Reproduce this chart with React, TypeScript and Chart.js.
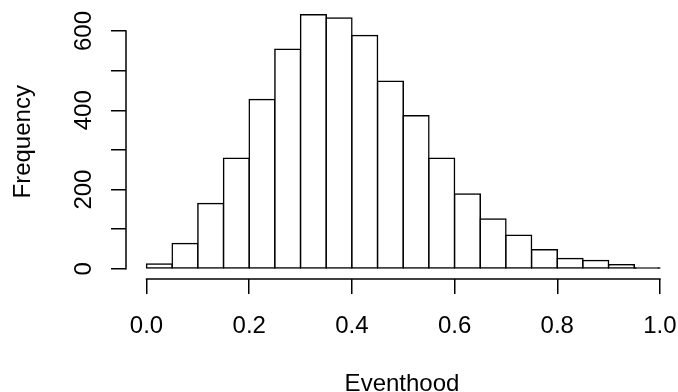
import React, { useEffect, useRef } from "react";
import { Chart, registerables } from "chart.js";

Chart.register(...registerables);

// Histogram bins (centres of 0.05-wide bins) and their counts
const binCenters = [0.025, 0.075, 0.125, 0.175, 0.225, 0.275, 0.325, 0.375, 0.425, 0.475,
  0.525, 0.575, 0.625, 0.675, 0.725, 0.775, 0.825, 0.875, 0.925, 0.975];
const counts = [12, 64, 165, 279, 427, 554, 641, 633, 589, 473,
  386, 279, 189, 126, 85, 48, 26, 21, 10, 2];

const xTicks = [0, 0.2, 0.4, 0.6, 0.8, 1.0];
const yTicks = [0, 100, 200, 300, 400, 500, 600];
const yLabels = [0, 200, 400, 600];

const xTitle = "Eventhood";
const yTitle = "Frequency";

const FONT = "'Liberation Sans', Arial, Helvetica, sans-serif";

const rAxesPlugin = {
  id: "rAxes",
  afterDraw(chart: any) {
    const { ctx, chartArea } = chart;
    const xs = chart.scales.x;
    const ys = chart.scales.y;
    ctx.save();
    ctx.strokeStyle = "#000";
    ctx.lineWidth = 1.5;
    ctx.lineCap = "butt";
    // x axis line
    const yb = chartArea.bottom;
    ctx.beginPath();
    ctx.moveTo(xs.getPixelForValue(xTicks[0]) - 0.75, yb);
    ctx.lineTo(xs.getPixelForValue(xTicks[xTicks.length - 1]) + 0.75, yb);
    ctx.stroke();
    // y axis line
    const xl = chartArea.left;
    ctx.beginPath();
    ctx.moveTo(xl, ys.getPixelForValue(yTicks[0]) + 0.75);
    ctx.lineTo(xl, ys.getPixelForValue(yTicks[yTicks.length - 1]) - 0.75);
    ctx.stroke();
    // y labels, rotated (R style)
    ctx.fillStyle = "#000";
    ctx.font = `24px ${FONT}`;
    ctx.textAlign = "center";
    ctx.textBaseline = "alphabetic";
    for (const v of yLabels) {
      const py = ys.getPixelForValue(v);
      ctx.save();
      ctx.translate(90.7, py);
      ctx.rotate(-Math.PI / 2);
      ctx.fillText(String(v), 0, 0);
      ctx.restore();
    }
    ctx.restore();
  },
};

export default function App() {
  const ref = useRef<HTMLCanvasElement | null>(null);

  useEffect(() => {
    if (!ref.current) return;
    Chart.defaults.font.family = FONT;
    Chart.defaults.font.size = 24;
    Chart.defaults.color = "#000";
    const chart = new Chart(ref.current, {
      type: "bar",
      data: {
        datasets: [
          {
            data: binCenters.map((c, i) => ({ x: c, y: counts[i] })),
            // very short bars render as a solid outline, like R's rect()
            backgroundColor: (c: any) => (counts[c.dataIndex] < 5 ? "#000" : "#fff"),
            borderColor: "#000",
            borderWidth: 1.5,
            borderSkipped: false,
            inflateAmount: 0.75,
            barPercentage: 1,
            categoryPercentage: 1,
          } as any,
        ],
      },
      options: {
        animation: false,
        responsive: false,
        devicePixelRatio: 1,
        layout: { padding: { top: 4.6, left: 0, right: 0, bottom: 0 } },
        plugins: { legend: { display: false }, tooltip: { enabled: false } },
        scales: {
          x: {
            type: "linear",
            offset: false,
            min: -0.04,
            max: 1.0352,
            afterBuildTicks: (s: any) => {
              s.ticks = xTicks.map((v) => ({ value: v }));
            },
            afterFit: (s: any) => {
              s.height = 113;
              s.paddingLeft = 0;
              s.paddingRight = 0;
            },
            border: { display: false },
            grid: {
              offset: false,
              drawOnChartArea: false,
              drawTicks: true,
              tickLength: 15,
              color: "#000",
              lineWidth: 1.5,
            },
            ticks: {
              autoSkip: false,
              maxRotation: 0,
              minRotation: 0,
              padding: 18,
              font: { size: 24, family: FONT },
              color: "#000",
              callback: (v: any) => Number(v).toFixed(1),
            },
            title: {
              display: true,
              text: xTitle,
              font: { size: 24, family: FONT },
              color: "#000",
              padding: { top: 0, bottom: -7 },
            },
          },
          y: {
            type: "linear",
            min: -25.7,
            max: 666.7,
            afterBuildTicks: (s: any) => {
              s.ticks = yTicks.map((v) => ({ value: v }));
            },
            afterFit: (s: any) => {
              s.width = 126;
              s.paddingTop = 0;
              s.paddingBottom = 0;
            },
            border: { display: false },
            grid: {
              drawOnChartArea: false,
              drawTicks: true,
              tickLength: 15,
              color: "#000",
              lineWidth: 1.5,
            },
            ticks: { display: false },
            title: {
              display: true,
              text: yTitle,
              font: { size: 24, family: FONT },
              color: "#000",
              padding: { top: 9, bottom: 0 },
            },
          },
        },
      } as any,
      plugins: [rAxesPlugin],
    });
    return () => chart.destroy();
  }, []);

  return (
    <div style={{ position: "fixed", left: 0, top: 0, width: 678, height: 392, background: "#fff" }}>
      <canvas ref={ref} width={678} height={392} style={{ width: 678, height: 392 }} />
    </div>
  );
}
